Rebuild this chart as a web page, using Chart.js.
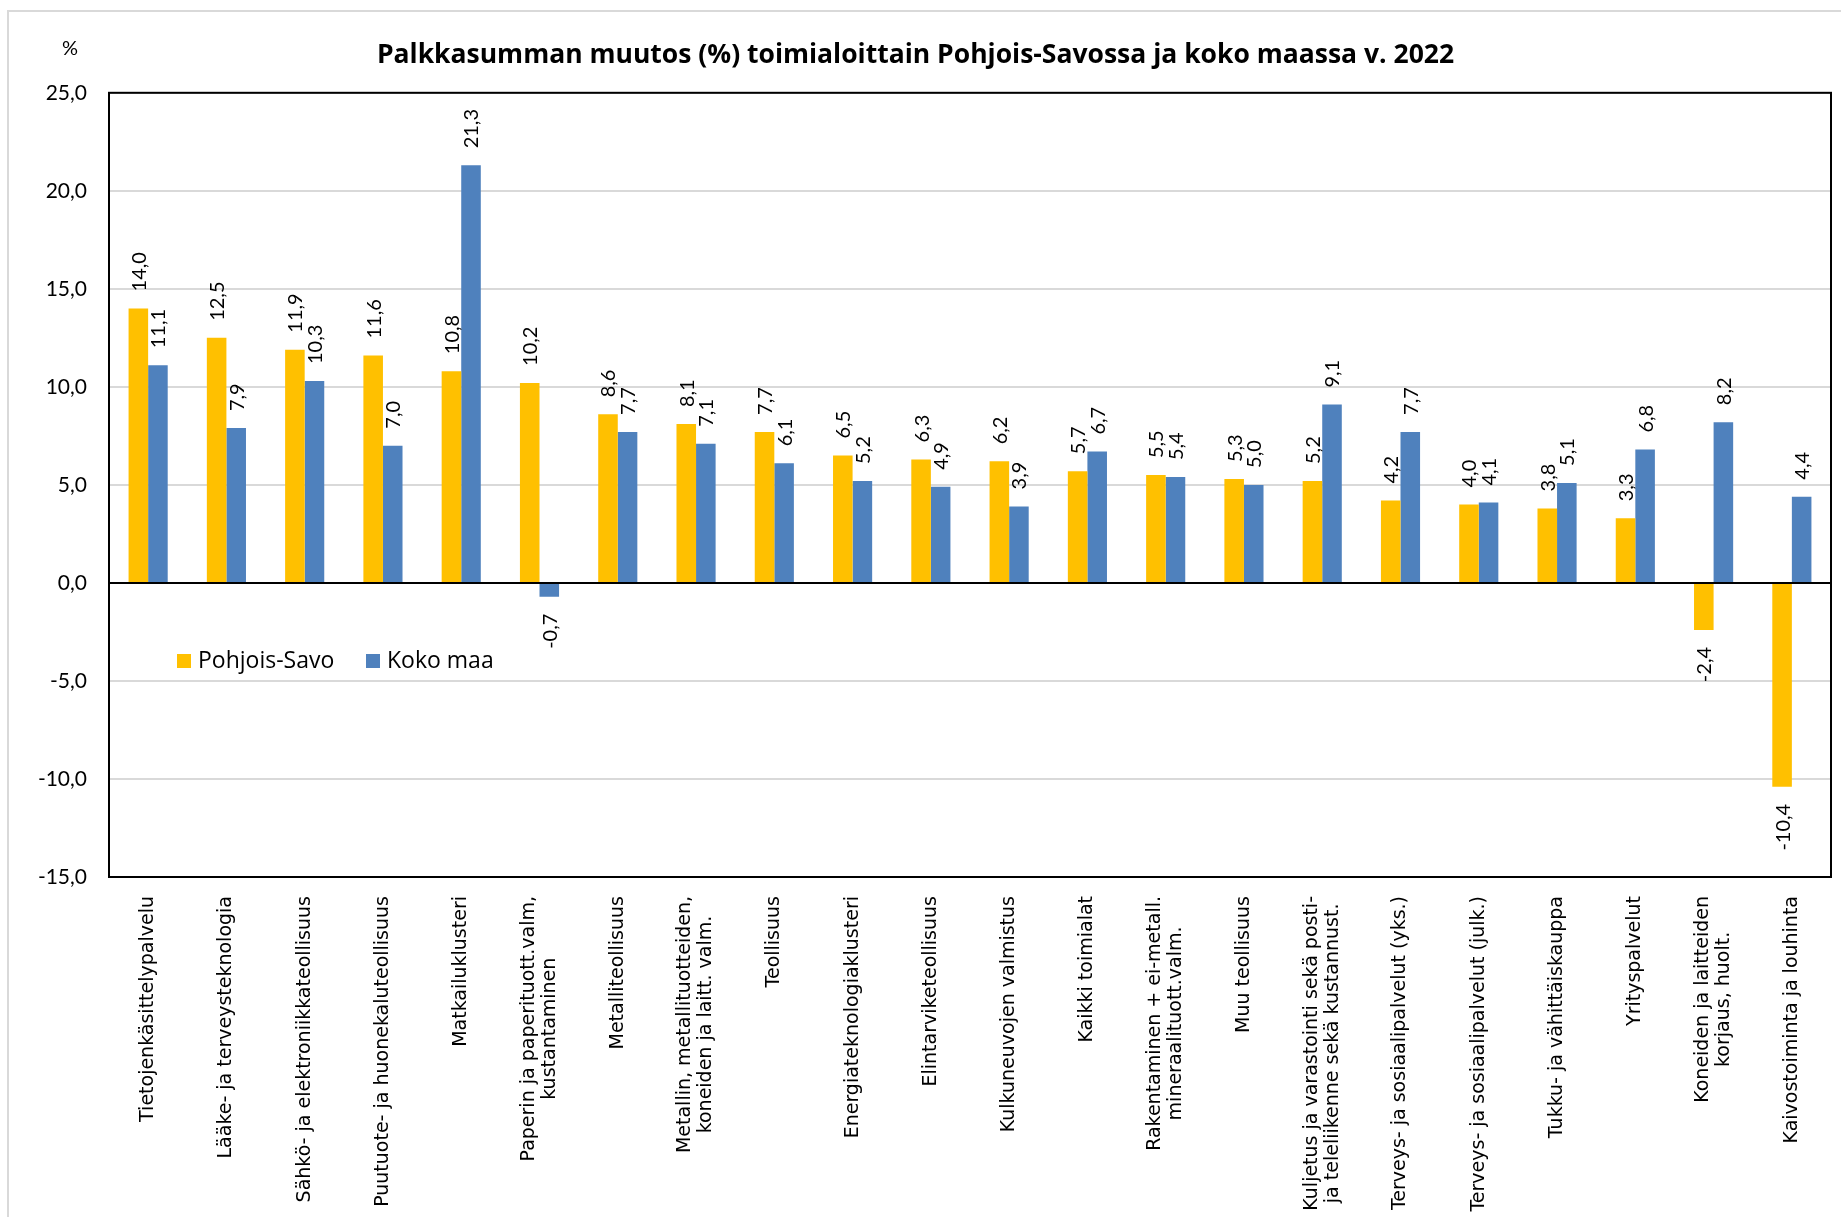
<!DOCTYPE html>
<html lang="fi">
<head>
<meta charset="utf-8">
<title>Palkkasumman muutos</title>
<script src="https://cdn.jsdelivr.net/npm/chart.js@4"></script>
<style>
  html, body { margin: 0; padding: 0; background: #fff; }
  #wrap { width: 1841px; height: 1217px; position: relative; }
</style>
</head>
<body>
<div id="wrap"><canvas id="chart"></canvas></div>
<script>
// categories (multi-line labels as arrays)
const categories = [
    ['Tietojenkäsittelypalvelu'],
    ['Lääke- ja terveysteknologia'],
    ['Sähkö- ja elektroniikkateollisuus'],
    ['Puutuote- ja huonekaluteollisuus'],
    ['Matkailuklusteri'],
    ['Paperin ja paperituott.valm,', 'kustantaminen'],
    ['Metalliteollisuus'],
    ['Metallin, metallituotteiden,', 'koneiden ja laitt. valm.'],
    ['Teollisuus'],
    ['Energiateknologiaklusteri'],
    ['Elintarviketeollisuus'],
    ['Kulkuneuvojen valmistus'],
    ['Kaikki toimialat'],
    ['Rakentaminen + ei-metall.', 'mineraalituott.valm.'],
    ['Muu teollisuus'],
    ['Kuljetus ja varastointi sekä posti-', 'ja teleliikenne sekä kustannust.'],
    ['Terveys- ja sosiaalipalvelut (yks.)'],
    ['Terveys- ja sosiaalipalvelut (julk.)'],
    ['Tukku- ja vähittäiskauppa'],
    ['Yrityspalvelut'],
    ['Koneiden ja laitteiden', 'korjaus, huolt.'],
    ['Kaivostoiminta ja louhinta']
];
const pohjoisSavo = [14.0, 12.5, 11.9, 11.6, 10.8, 10.2, 8.6, 8.1, 7.7, 6.5, 6.3, 6.2, 5.7, 5.5, 5.3, 5.2, 4.2, 4.0, 3.8, 3.3, -2.4, -10.4];
const kokoMaa = [11.1, 7.9, 10.3, 7.0, 21.3, -0.7, 7.7, 7.1, 6.1, 5.2, 4.9, 3.9, 6.7, 5.4, 5.0, 9.1, 7.7, 4.1, 5.1, 6.8, 8.2, 4.4];
const yMin = -15, yMax = 25, yStep = 5;

const fmt = v => v.toFixed(1).replace('.', ',');
const numFont = 'Lato, "Open Sans", sans-serif';
const textFont = '"Open Sans", Lato, sans-serif';

// light grey frame of the chart object (only top/left visible)
const framePlugin = {
    id: 'frame',
    beforeDraw(chart) {
        const c = chart.ctx;
        c.save();
        c.fillStyle = '#fff';
        c.fillRect(0, 0, chart.width, chart.height);
        c.strokeStyle = '#D9D9D9';
        c.lineWidth = 2;
        c.strokeRect(8, 11, chart.width + 20, chart.height + 20);
        // % unit label
        c.fillStyle = '#000';
        c.font = '20px ' + numFont;
        c.textAlign = 'center';
        c.textBaseline = 'middle';
        c.fillText('%', 70, 49);
        c.restore();
    }
};

// plot border, value labels, category labels, legend
const extrasPlugin = {
    id: 'extras',
    afterDatasetsDraw(chart) {
        const c = chart.ctx;
        const a = chart.chartArea;
        c.save();
        c.strokeStyle = '#000';
        c.lineWidth = 2;
        c.strokeRect(a.left, a.top, a.right - a.left, a.bottom - a.top);

        // value labels, rotated
        c.fillStyle = '#000';
        c.font = '20px ' + numFont;
        c.textBaseline = 'middle';
        chart.data.datasets.forEach((ds, di) => {
            const meta = chart.getDatasetMeta(di);
            meta.data.forEach((bar, i) => {
                const v = ds.data[i];
                c.save();
                c.translate(bar.x, v >= 0 ? bar.y - 17 : bar.y + 17);
                c.rotate(-Math.PI / 2);
                c.textAlign = v >= 0 ? 'left' : 'right';
                c.fillText(fmt(v), 0, 1);
                c.restore();
            });
        });

        // category labels, rotated, lines centred on each other
        const xs = chart.scales.x;
        c.font = '19px "DejaVu Sans", Verdana, sans-serif';
        c.textAlign = 'center';
        const top = a.bottom + 19;
        categories.forEach((lines, i) => {
            const x = xs.getPixelForValue(i);
            const maxW = Math.max(...lines.map(l => c.measureText(l).width));
            c.save();
            c.translate(x, top + maxW / 2);
            c.rotate(-Math.PI / 2);
            lines.forEach((l, j) => {
                c.fillText(l, 0, (j - (lines.length - 1) / 2) * 21);
            });
            c.restore();
        });

        // legend inside plot
        const legX = [177, 366];
        c.font = '23px ' + textFont;
        c.textAlign = 'left';
        chart.data.datasets.forEach((ds, di) => {
            c.fillStyle = ds.backgroundColor;
            c.fillRect(legX[di], 654, 14, 14);
            c.fillStyle = '#000';
            c.fillText(ds.label, legX[di] + 21, 661);
        });
        c.restore();
    }
};

new Chart(document.getElementById('chart'), {
    type: 'bar',
    data: {
        labels: categories,
        datasets: [
            { label: 'Pohjois-Savo', data: pohjoisSavo, backgroundColor: '#FFC000' },
            { label: 'Koko maa', data: kokoMaa, backgroundColor: '#4F81BD' }
        ]
    },
    options: {
        responsive: true,
        maintainAspectRatio: false,
        devicePixelRatio: 1,
        animation: false,
        categoryPercentage: 0.5,
        barPercentage: 1.0,
        layout: { padding: { left: 0, right: 10, top: 0, bottom: 0 } },
        plugins: {
            legend: { display: false },
            tooltip: { enabled: false },
            title: {
                display: true,
                text: 'Palkkasumman muutos (%) toimialoittain Pohjois-Savossa ja koko maassa v. 2022',
                color: '#000',
                font: { family: textFont, size: 26.5, weight: 'bold' },
                padding: { top: 40, bottom: 21 }
            }
        },
        scales: {
            x: {
                grid: { display: false },
                border: { display: true, color: '#000', width: 2 },
                ticks: { display: false },
                afterFit: s => { s.height = 340; }
            },
            y: {
                min: yMin,
                max: yMax,
                grid: {
                    drawTicks: false,
                    lineWidth: 2,
                    color: ctx => ctx.tick && ctx.tick.value === 0 ? '#000' : '#D9D9D9'
                },
                border: { display: true, color: '#000', width: 2 },
                ticks: {
                    stepSize: yStep,
                    padding: 22,
                    color: '#000',
                    font: { family: numFont, size: 21 },
                    callback: v => fmt(v)
                },
                afterFit: s => { s.width = 109; }
            }
        }
    },
    plugins: [framePlugin, extrasPlugin]
});
</script>
</body>
</html>
